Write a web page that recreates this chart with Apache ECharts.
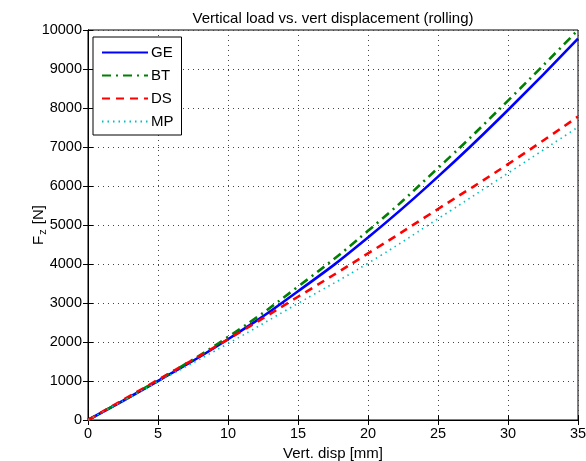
<!DOCTYPE html>
<html>
<head>
<meta charset="utf-8">
<script src="https://cdn.jsdelivr.net/npm/echarts@6/dist/echarts.min.js"></script>
<style>
  html, body { margin: 0; padding: 0; background: #fff; }
  #chart { width: 586px; height: 461px; }
</style>
</head>
<body>
<div id="chart"></div>
<script>
// Vertical displacement [mm]
const disp = [0, 5, 10, 15, 20, 25, 30, 35];
// Vertical load F_z [N] for each tyre model
const loadGE = [0, 1000, 2070, 3300, 4680, 6240, 7950, 9780];
const loadBT = [0, 1020, 2130, 3420, 4850, 6460, 8190, 10000];
const loadDS = [0, 1030, 2070, 3160, 4270, 5410, 6560, 7780];
const loadMP = [0, 980, 1960, 2990, 4020, 5160, 6330, 7510];

const FONT = '"Liberation Sans", Arial, Helvetica, sans-serif';
const FS = 14.5;

function pairs(ys) { return disp.map((x, i) => [x, ys[i]]); }

const chart = echarts.init(document.getElementById('chart'), null, { renderer: 'canvas' });

const dotted = { color: '#444', width: 1, type: [1, 4] };

function line(name, ys, color, width, dash) {
  return {
    name, type: 'line', data: pairs(ys), smooth: 0.5,
    symbol: 'none', showSymbol: false, clip: true,
    lineStyle: { color, width, type: dash },
    itemStyle: { color },
    emphasis: { disabled: true },
    animation: false
  };
}

chart.setOption({
  animation: false,
  textStyle: { fontFamily: FONT },
  title: {
    text: 'Vertical load vs. vert displacement (rolling)',
    left: 328, top: 6, textAlign: 'center',
    textStyle: { fontFamily: FONT, fontSize: 15, fontWeight: 'normal', color: '#000' }
  },
  grid: {
    left: 88, right: 8, top: 30, bottom: 41,
    outerBoundsMode: 'none', containLabel: false,
    show: true, borderColor: '#000', borderWidth: 1, backgroundColor: '#fff'
  },
  legend: {
    orient: 'vertical', left: 93, top: 37,
    backgroundColor: '#fff', borderColor: '#000', borderWidth: 1,
    padding: [8, 8, 6, 8],
    itemWidth: 46, itemHeight: 14, itemGap: 8,
    itemStyle: { opacity: 0, borderWidth: 0 },
    textStyle: { fontFamily: FONT, fontSize: 15, color: '#000', padding: [0, 0, 0, -2] },
    data: ['GE', 'BT', 'DS', 'MP']
  },
  xAxis: [{
    type: 'value', min: 0, max: 35, interval: 5,
    name: 'Vert. disp [mm]', nameLocation: 'middle', nameGap: 26, nameMoveOverlap: false,
    nameTextStyle: { fontFamily: FONT, fontSize: 15, color: '#000' },
    axisLine: { show: true, lineStyle: { color: '#000', width: 1 } },
    axisTick: { show: true, inside: true, length: 5, lineStyle: { color: '#000' } },
    axisLabel: { fontFamily: FONT, fontSize: FS, color: '#000', margin: 6 },
    splitLine: { show: true, lineStyle: dotted }
  }, {
    type: 'value', min: 0, max: 35, interval: 5, position: 'top',
    axisLine: { show: true, lineStyle: { color: '#000', width: 1 } },
    axisTick: { show: true, inside: true, length: 5, lineStyle: { color: '#000' } },
    axisLabel: { show: false }, splitLine: { show: false }
  }],
  yAxis: [{
    type: 'value', min: 0, max: 10000, interval: 1000,
    name: '{a|F}{b|z}{a| [N]}', nameLocation: 'middle', nameGap: 40, nameMoveOverlap: false,
    nameTextStyle: {
      fontFamily: FONT, color: '#000',
      rich: {
        a: { fontFamily: FONT, fontSize: 15, color: '#000' },
        b: { fontFamily: FONT, fontSize: 11, color: '#000', padding: [8, 1, 0, 1] }
      }
    },
    axisLine: { show: true, lineStyle: { color: '#000', width: 1 } },
    axisTick: { show: true, inside: true, length: 5, lineStyle: { color: '#000' } },
    axisLabel: {
      fontFamily: FONT, fontSize: FS, color: '#000', margin: 6,
      formatter: v => String(v)
    },
    splitLine: { show: true, lineStyle: dotted }
  }, {
    type: 'value', min: 0, max: 10000, interval: 1000, position: 'right',
    axisLine: { show: true, lineStyle: { color: '#000', width: 1 } },
    axisTick: { show: true, inside: true, length: 5, lineStyle: { color: '#000' } },
    axisLabel: { show: false }, splitLine: { show: false }
  }],
  series: [
    line('GE', loadGE, '#0000ff', 2.6, 'solid'),
    line('BT', loadBT, '#008000', 2.6, [9, 5, 2, 5]),
    line('DS', loadDS, '#ff0000', 2.6, [8, 6]),
    line('MP', loadMP, '#00bfbf', 1.6, [1.5, 4])
  ]
});
</script>
</body>
</html>
